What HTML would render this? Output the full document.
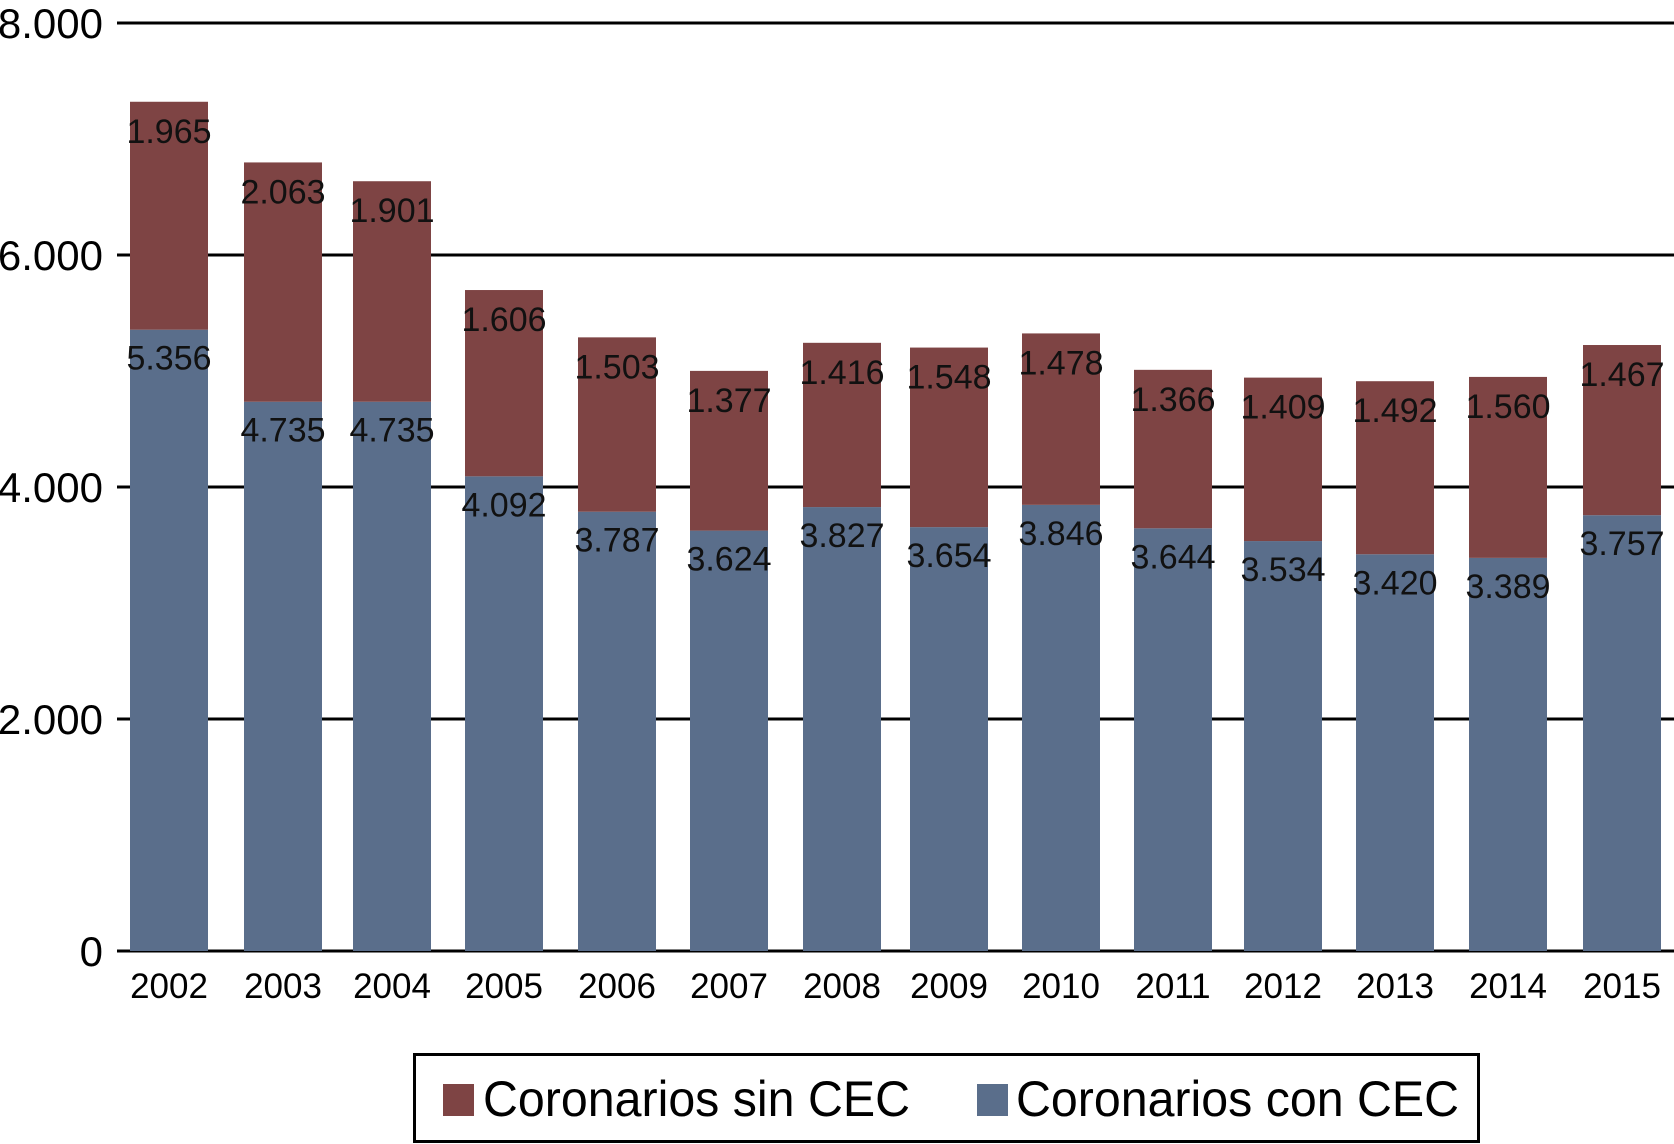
<!DOCTYPE html>
<html><head><meta charset="utf-8"><style>
html,body{margin:0;padding:0;background:#fff;}
svg{display:block;font-family:"Liberation Sans",sans-serif;}
</style></head><body>
<svg id="chart" width="1674" height="1144" viewBox="0 0 1674 1144" xmlns="http://www.w3.org/2000/svg">
<g id="grid"></g>
<g id="bars"></g>
<g id="labels"></g>
<g id="yaxis"></g>
<g id="xaxis"></g>
<g>
  <rect x="414.5" y="1054.5" width="1064" height="87" fill="#fff" stroke="#000" stroke-width="3"/>
  <rect x="443" y="1084" width="31" height="32" fill="#7e4444"/>
  <text x="483" y="1116" font-size="50" textLength="427" lengthAdjust="spacingAndGlyphs">Coronarios sin CEC</text>
  <rect x="977" y="1084" width="31" height="32" fill="#5a6e8b"/>
  <text x="1016" y="1116" font-size="50" textLength="443" lengthAdjust="spacingAndGlyphs">Coronarios con CEC</text>
</g>
</svg>
<script>
const years = ["2002","2003","2004","2005","2006","2007","2008","2009","2010","2011","2012","2013","2014","2015"];
const conCEC = [5356,4735,4735,4092,3787,3624,3827,3654,3846,3644,3534,3420,3389,3757];
const sinCEC = [1965,2063,1901,1606,1503,1377,1416,1548,1478,1366,1409,1492,1560,1467];
const yTicks = [0,2000,4000,6000,8000];
const yTickLabels = ["0","2.000","4.000","6.000","8.000"];

const NS="http://www.w3.org/2000/svg";
const y0=951, yTop=23, yMax=8000;
const y = v => y0 - v/yMax*(y0-yTop);
const centers=[169,283,392,504,617,729,842,949,1061,1173,1283,1395,1508,1622];
const x = i => centers[i];
const bw = 78;
const fmt = v => { const s=String(v); return s.length>3 ? s.slice(0,s.length-3)+"."+s.slice(-3) : s; };
function mk(tag, attrs, parent){ const e=document.createElementNS(NS,tag); for(const k in attrs) e.setAttribute(k,attrs[k]); parent.appendChild(e); return e; }

const grid=document.getElementById('grid'), bars=document.getElementById('bars'),
      labels=document.getElementById('labels'), yaxis=document.getElementById('yaxis'), xaxis=document.getElementById('xaxis');

yTicks.forEach((t,i)=>{
  const l=mk('line',{x1:117,x2:1674,y1:y(t),y2:y(t),stroke:'#000','stroke-width':3},grid);
  
  
  const tx=mk('text',{x:103,y:y(t)+15,'font-size':42,'text-anchor':'end'},yaxis);
  tx.textContent=yTickLabels[i];
  
  
});

years.forEach((yr,i)=>{
  const cx=x(i);
  const b1=mk('rect',{x:cx-bw/2,y:y(conCEC[i]),width:bw,height:y0-y(conCEC[i]),fill:'#5a6e8b'},bars);
  
  
  const top=conCEC[i]+sinCEC[i];
  const b2=mk('rect',{x:cx-bw/2,y:y(top),width:bw,height:y(conCEC[i])-y(top),fill:'#7e4444'},bars);
  
  
  const l1=mk('text',{x:cx,y:y(conCEC[i])+40,'font-size':34,'text-anchor':'middle',fill:'#111'},labels);
  l1.textContent=fmt(conCEC[i]);
  
  
  const l2=mk('text',{x:cx,y:y(top)+41,'font-size':34,'text-anchor':'middle',fill:'#111'},labels);
  l2.textContent=fmt(sinCEC[i]);
  
  
  const xl=mk('text',{x:cx,y:998,'font-size':35,'text-anchor':'middle'},xaxis);
  xl.textContent=yr;
  
  
});
</script>
</body></html>
